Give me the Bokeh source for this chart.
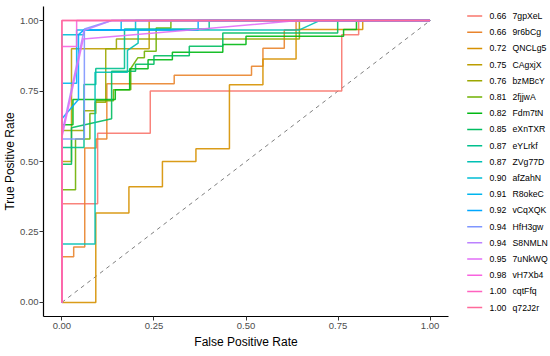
import math
from bokeh.plotting import figure
from bokeh.models import Range1d, FixedTicker, PrintfTickFormatter
from bokeh.layouts import row
from bokeh.core.properties import value
from bokeh.embed import file_html
from bokeh.resources import INLINE

# ---------------- data ----------------
names = ["7gpXeL", "9r6bCg", "QNCLg5", "CAgxjX", "bzMBcY", "2fjjwA", "Fdm7tN",
         "eXnTXR", "eYLrkf", "ZVg77D", "afZahN", "R8okeC", "vCqXQK", "HfH3gw",
         "S8NMLN", "7uNkWQ", "vH7Xb4", "cqtFfq", "q72J2r"]
auc = ["0.66", "0.66", "0.72", "0.75", "0.76", "0.81", "0.82", "0.85", "0.87", "0.87",
       "0.90", "0.91", "0.92", "0.94", "0.94", "0.95", "0.98", "1.00", "1.00"]

fpr_7gpXeL = [0, 0, 0.097, 0.097, 0.24, 0.24, 0.76, 0.76, 0.806, 0.806, 1]
tpr_7gpXeL = [0, 0.35, 0.35, 0.60, 0.60, 0.75, 0.75, 0.95, 0.95, 1, 1]
fpr_9r6bCg = [0, 0, 0.032, 0.032, 0.062, 0.062, 0.093, 0.093, 0.122, 0.122, 0.305, 0.305,
              0.515, 0.515, 0.546, 0.546, 0.604, 0.604, 0.636, 0.636, 1]
tpr_9r6bCg = [0, 0.162, 0.162, 0.197, 0.197, 0.548, 0.548, 0.58, 0.58, 0.776, 0.776, 0.806,
              0.806, 0.838, 0.838, 0.902, 0.902, 0.967, 0.967, 1, 1]
fpr_QNCLg5 = [0, 0.092, 0.092, 0.182, 0.182, 0.273, 0.273, 0.364, 0.364, 0.455, 0.455,
              0.546, 0.546, 0.636, 0.636, 0.817, 0.817, 1]
tpr_QNCLg5 = [0, 0, 0.317, 0.317, 0.41, 0.41, 0.50, 0.50, 0.545, 0.545, 0.772, 0.772,
              0.864, 0.864, 0.968, 0.968, 1, 1]
fpr_CAgxjX = [0, 0, 0.026, 0.026, 0.237, 0.237, 1]
tpr_CAgxjX = [0, 0.50, 0.50, 0.90, 0.90, 1, 1]
fpr_bzMBcY = [0, 0, 0.06, 0.06, 0.09, 0.09, 0.119, 0.119, 0.148, 0.148, 0.645, 0.645, 1]
tpr_bzMBcY = [0, 0.61, 0.61, 0.68, 0.68, 0.71, 0.71, 0.90, 0.90, 0.935, 0.935, 1, 1]
fpr_2fjjwA = [0, 0, 0.037, 0.037, 0.076, 0.076, 0.092, 0.092, 0.14, 0.14, 0.187, 0.187,
              0.206, 0.224, 0.224, 0.256, 0.256, 0.296, 0.296, 1]
tpr_2fjjwA = [0, 0.40, 0.40, 0.58, 0.58, 0.67, 0.67, 0.716, 0.716, 0.755, 0.755, 0.83,
              0.868, 0.868, 0.891, 0.891, 0.974, 0.974, 1, 1]
fpr_Fdm7tN = [0, 0, 0.03, 0.03, 0.145, 0.145, 0.184, 0.184, 0.234, 0.234, 0.30, 0.30,
              0.437, 0.437, 0.50, 0.50, 0.765, 0.765, 0.80, 0.80, 1]
tpr_Fdm7tN = [0, 0.63, 0.63, 0.72, 0.72, 0.755, 0.755, 0.829, 0.829, 0.861, 0.861, 0.888,
              0.888, 0.915, 0.915, 0.944, 0.944, 0.968, 0.968, 1, 1]
fpr_eXnTXR = [0, 0, 0.026, 0.026, 0.135, 0.135, 0.20, 0.20, 0.25, 0.25, 0.346, 0.346,
              0.437, 0.437, 0.749, 0.749, 1]
tpr_eXnTXR = [0, 0.49, 0.49, 0.62, 0.652, 0.82, 0.82, 0.845, 0.845, 0.875, 0.875, 0.909,
              0.909, 0.956, 0.956, 1, 1]
fpr_eYLrkf = [0, 0, 0.06, 0.06, 0.092, 0.092, 0.17, 0.17, 0.40, 0.40, 1]
tpr_eYLrkf = [0, 0.55, 0.55, 0.773, 0.773, 0.83, 0.83, 0.97, 0.97, 1, 1]
fpr_ZVg77D = [0, 0, 0.09, 0.09, 0.178, 0.178, 0.207, 0.207, 0.645, 0.70, 1]
tpr_ZVg77D = [0, 0.207, 0.207, 0.817, 0.817, 0.894, 0.92, 0.967, 0.967, 1, 1]
fpr_afZahN = [0, 0, 0.06, 0.06, 0.2, 0.2, 1]
tpr_afZahN = [0, 0.95, 0.95, 0.967, 0.967, 1, 1]
fpr_R8okeC = [0, 0, 0.04, 0.04, 0.161, 0.161, 1]
tpr_R8okeC = [0, 0.778, 0.778, 0.967, 0.967, 1, 1]
fpr_vCqXQK = [0, 0, 0.045, 0.045, 0.06, 0.37, 0.37, 1]
tpr_vCqXQK = [0, 0.652, 0.72, 0.95, 0.967, 0.967, 1, 1]
fpr_HfH3gw = [0, 0, 0.061, 0.061, 0.135, 1]
tpr_HfH3gw = [0, 0.58, 0.58, 0.97, 1, 1]
fpr_S8NMLN = [0, 0, 0.06, 0.135, 1]
tpr_S8NMLN = [0, 0.60, 0.965, 1, 1]
fpr_7uNkWQ = [0, 0, 0.058, 0.38, 0.64, 1]
tpr_7uNkWQ = [0, 0.586, 0.935, 0.97, 1, 1]
fpr_vH7Xb4 = [0, 0, 0.04, 0.04, 1]
tpr_vH7Xb4 = [0, 0.908, 0.908, 1, 1]
fpr_cqtFfq = [0, 0, 1]
tpr_cqtFfq = [0, 1, 1]
fpr_q72J2r = [0, 0, 1]
tpr_q72J2r = [0, 1, 1]

diag_x = [0, 1]
diag_y = [0, 1]
x_ticks = [0, 0.25, 0.5, 0.75, 1.0]
y_ticks = [0, 0.25, 0.5, 0.75, 1.0]

curves = {
    "7gpXeL": (fpr_7gpXeL, tpr_7gpXeL), "9r6bCg": (fpr_9r6bCg, tpr_9r6bCg),
    "QNCLg5": (fpr_QNCLg5, tpr_QNCLg5), "CAgxjX": (fpr_CAgxjX, tpr_CAgxjX),
    "bzMBcY": (fpr_bzMBcY, tpr_bzMBcY), "2fjjwA": (fpr_2fjjwA, tpr_2fjjwA),
    "Fdm7tN": (fpr_Fdm7tN, tpr_Fdm7tN), "eXnTXR": (fpr_eXnTXR, tpr_eXnTXR),
    "eYLrkf": (fpr_eYLrkf, tpr_eYLrkf), "ZVg77D": (fpr_ZVg77D, tpr_ZVg77D),
    "afZahN": (fpr_afZahN, tpr_afZahN), "R8okeC": (fpr_R8okeC, tpr_R8okeC),
    "vCqXQK": (fpr_vCqXQK, tpr_vCqXQK), "HfH3gw": (fpr_HfH3gw, tpr_HfH3gw),
    "S8NMLN": (fpr_S8NMLN, tpr_S8NMLN), "7uNkWQ": (fpr_7uNkWQ, tpr_7uNkWQ),
    "vH7Xb4": (fpr_vH7Xb4, tpr_vH7Xb4), "cqtFfq": (fpr_cqtFfq, tpr_cqtFfq),
    "q72J2r": (fpr_q72J2r, tpr_q72J2r),
}


# ---------------- ggplot-like hue palette ----------------
def hcl_hex(h, c=100.0, l=65.0):
    hr = math.radians(h)
    u, v = c * math.cos(hr), c * math.sin(hr)
    Xn, Yn, Zn = 95.047, 100.0, 108.883
    un = 4 * Xn / (Xn + 15 * Yn + 3 * Zn)
    vn = 9 * Yn / (Xn + 15 * Yn + 3 * Zn)
    Y = Yn * ((l + 16) / 116) ** 3
    up = u / (13 * l) + un
    vp = v / (13 * l) + vn
    X = Y * 9 * up / (4 * vp)
    Z = Y * (12 - 3 * up - 20 * vp) / (4 * vp)
    X, Y, Z = X / 100, Y / 100, Z / 100
    rgb = [3.2404542 * X - 1.5371385 * Y - 0.4985314 * Z,
           -0.9692660 * X + 1.8760108 * Y + 0.0415560 * Z,
           0.0556434 * X - 0.2040259 * Y + 1.0572252 * Z]
    out = []
    for ch in rgb:
        ch = 12.92 * ch if ch <= 0.0031308 else 1.055 * ch ** (1 / 2.4) - 0.055
        out.append(int(round(max(0, min(1, ch)) * 255)))
    return "#%02X%02X%02X" % tuple(out)


n = len(names)
colors = [hcl_hex(15 + 360.0 * i / n) for i in range(n)]

FONT = "Liberation Sans"
H = 356

# ---------------- main plot ----------------
p = figure(width=453, height=H, x_range=Range1d(-0.05, 1.05), y_range=Range1d(-0.05, 1.05),
           output_backend="svg", toolbar_location=None,
           min_border_left=43, min_border_right=5, min_border_top=6, min_border_bottom=40)
p.title.visible = False
p.outline_line_color = None
p.xgrid.visible = False
p.ygrid.visible = False
p.background_fill_color = "white"

p.line(diag_x, diag_y, line_color="#7F7F7F", line_dash="4 4", line_width=1)

for nm, col in zip(names, colors):
    fx, ty = curves[nm]
    p.line(fx, ty, line_color=col, line_width=1.5, line_alpha=0.9)

for ax in (p.xaxis[0], p.yaxis[0]):
    ax.axis_line_color = "black"
    ax.axis_line_width = 1.2
    ax.major_tick_line_color = "#333333"
    ax.major_tick_out = 4
    ax.major_tick_in = 0
    ax.minor_tick_line_color = None
    ax.major_label_text_font = FONT
    ax.major_label_text_font_size = "9.5px"
    ax.major_label_text_color = "#4D4D4D"
    ax.axis_label_text_font = FONT
    ax.axis_label_text_font_size = "12px"
    ax.axis_label_text_font_style = "normal"
    ax.axis_label_text_color = "black"
    ax.formatter = PrintfTickFormatter(format="%.2f")

p.xaxis[0].ticker = FixedTicker(ticks=x_ticks)
p.yaxis[0].ticker = FixedTicker(ticks=y_ticks)
p.xaxis[0].axis_label = "False Positive Rate"
p.yaxis[0].axis_label = "True Positive Rate"
p.xaxis[0].major_label_standoff = 2
p.xaxis[0].axis_label_standoff = 3
p.yaxis[0].major_label_standoff = 1
p.yaxis[0].axis_label_standoff = 0

# ---------------- legend panel ----------------
LW = 97
leg = figure(width=LW, height=H, x_range=Range1d(0, LW), y_range=Range1d(H, 0),
             output_backend="svg", toolbar_location=None, min_border=0)
leg.title.visible = False
leg.axis.visible = False
leg.xgrid.visible = False
leg.ygrid.visible = False
leg.outline_line_color = None

LFS = "8.7px"
ys = [11 + 18.6 * i for i in range(n)]
leg.segment(x0=[13.7] * n, x1=[28.7] * n, y0=ys, y1=ys, line_color=colors, line_width=1.5)
leg.text(x=[36] * n, y=ys, text=auc, text_font=value(FONT), text_font_size=LFS,
         text_baseline="middle", text_color="black")
leg.text(x=[59] * n, y=ys, text=names, text_font=value(FONT), text_font_size=LFS,
         text_baseline="middle", text_color="black")

layout = row(p, leg)
open("out.html", "w").write(file_html(layout, INLINE))
